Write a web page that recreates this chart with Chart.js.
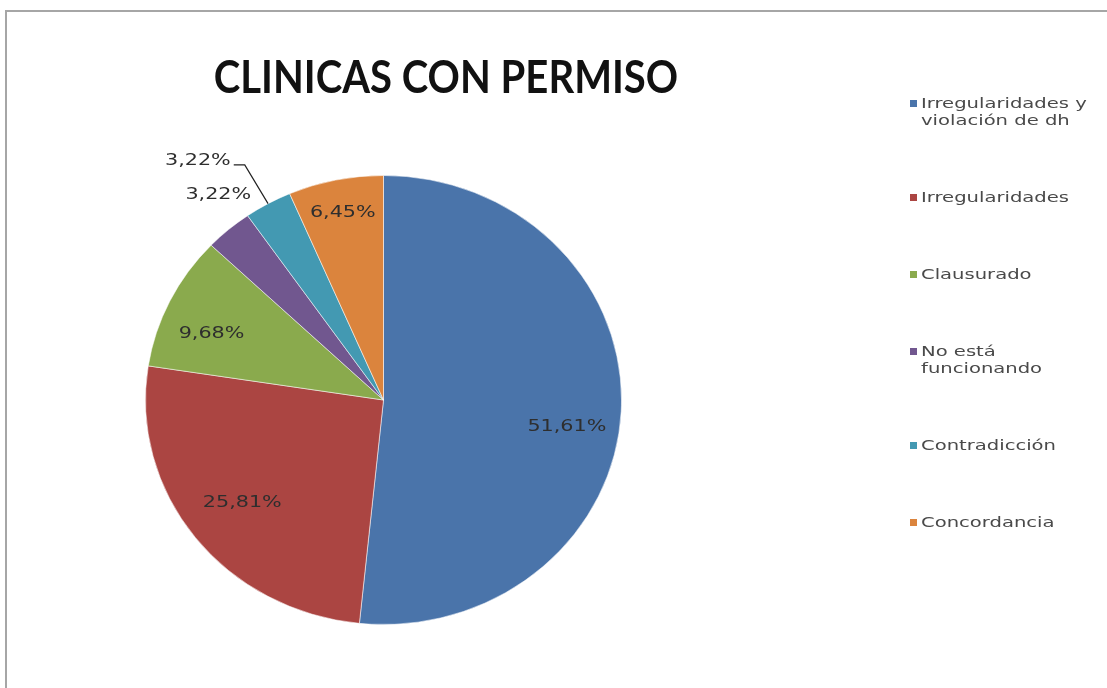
<!DOCTYPE html>
<html><head><meta charset="utf-8">
<script src="https://cdn.jsdelivr.net/npm/chart.js@4"></script>
<style>html,body{margin:0;padding:0;background:#fff;overflow:hidden}canvas{display:block}</style>
</head><body>
<canvas id="c" width="1107" height="688"></canvas>
<script>
const chartTitle = 'CLINICAS CON PERMISO';
const categories = ['Irregularidades y\nviolación de dh', 'Irregularidades', 'Clausurado', 'No está\nfuncionando', 'Contradicción', 'Concordancia'];
const values = [51.61, 25.81, 9.68, 3.22, 3.22, 6.45];
const colors = ['#4A74AA', '#AB4542', '#8AAA4D', '#71578F', '#4399B2', '#DB843D'];

// label placement (radius fraction, angle shift in degrees, leader line)
const labelLayout = [
  {f: 0.78, da: 6},
  {f: 0.75, da: 0},
  {f: 0.78, da: -4},
  {f: 1.145, da: 3.3},
  {f: 1.32, da: -7.2, leader: true},
  {f: 0.85, da: 0}
];
const Y_SCALE = 225 / 238.5;

function fmt(v) { return v.toFixed(2).replace('.', ',') + '%'; }

function drawWide(ctx, text, x, y, sx, align) {
  ctx.save();
  ctx.translate(x, y);
  ctx.scale(sx, 1);
  ctx.textAlign = align;
  ctx.fillText(text, 0, 0);
  ctx.restore();
}

const custom = {
  id: 'custom',
  beforeDraw(chart) {
    const ctx = chart.ctx;
    ctx.save();
    ctx.fillStyle = '#fff';
    ctx.fillRect(0, 0, chart.width, chart.height);
    ctx.fillStyle = '#a6a6a6';
    ctx.fillRect(5, 10, chart.width, 2);
    ctx.fillRect(5, 10, 2, chart.height);
    ctx.restore();
  },
  beforeDatasetsDraw(chart) {
    const a = chart.getDatasetMeta(0).data[0];
    const ctx = chart.ctx;
    ctx.save();
    ctx.translate(a.x, a.y);
    ctx.scale(1, Y_SCALE);
    ctx.translate(-a.x, -a.y);
  },
  afterDatasetsDraw(chart) {
    const ctx = chart.ctx;
    ctx.restore();
    const meta = chart.getDatasetMeta(0);
    ctx.save();
    ctx.font = '15px "DejaVu Sans"';
    ctx.fillStyle = '#2e2e2e';
    ctx.textBaseline = 'middle';
    meta.data.forEach((arc, i) => {
      const L = labelLayout[i];
      const mid = (arc.startAngle + arc.endAngle) / 2;
      const ang = mid + L.da * Math.PI / 180;
      const r = arc.outerRadius;
      const lx = arc.x + r * L.f * Math.cos(ang);
      const ly = arc.y + r * L.f * Math.sin(ang) * Y_SCALE;
      const txt = fmt(chart.data.datasets[0].data[i]);
      const sx = 1.38;
      drawWide(ctx, txt, lx, ly, sx, 'center');
      if (L.leader) {
        const w = ctx.measureText(txt).width * sx;
        const ex = arc.x + r * Math.cos(mid);
        const ey = arc.y + r * Math.sin(mid) * Y_SCALE;
        ctx.beginPath();
        ctx.strokeStyle = '#222';
        ctx.lineWidth = 1.2;
        ctx.moveTo(lx + w / 2 + 3, ly + 4);
        ctx.lineTo(lx + w / 2 + 14, ly + 4);
        ctx.lineTo(ex, ey);
        ctx.stroke();
      }
    });
    ctx.restore();
  },
  afterDraw(chart) {
    const ctx = chart.ctx;
    ctx.save();
    // title
    ctx.fillStyle = '#111';
    ctx.font = 'bold 45px Lato';
    ctx.textBaseline = 'alphabetic';
    drawWide(ctx, chartTitle, 446, 93, 0.89, 'center');
    // legend
    ctx.font = '13.5px "DejaVu Sans"';
    ctx.textBaseline = 'middle';
    let y = 104;
    const lineH = 17, gap = 77;
    chart.data.labels.forEach((lab, i) => {
      const lines = lab.split('\n');
      ctx.fillStyle = colors[i];
      ctx.fillRect(910, y - 4, 7, 7);
      ctx.fillStyle = '#4a4a4a';
      lines.forEach((ln, j) => drawWide(ctx, ln, 921, y + j * lineH, 1.45, 'left'));
      y += (lines.length - 1) * lineH + gap;
    });
    ctx.restore();
  }
};

new Chart(document.getElementById('c'), {
  type: 'pie',
  data: {
    labels: categories,
    datasets: [{
      data: values,
      backgroundColor: colors,
      borderColor: 'rgba(255,255,255,0.55)',
      borderWidth: 1
    }]
  },
  options: {
    responsive: false,
    animation: false,
    devicePixelRatio: 1,
    layout: { padding: { left: 145, right: 485, top: 161.5, bottom: 49.5 } },
    plugins: { legend: { display: false }, title: { display: false }, tooltip: { enabled: false } }
  },
  plugins: [custom]
});
</script>
</body></html>
